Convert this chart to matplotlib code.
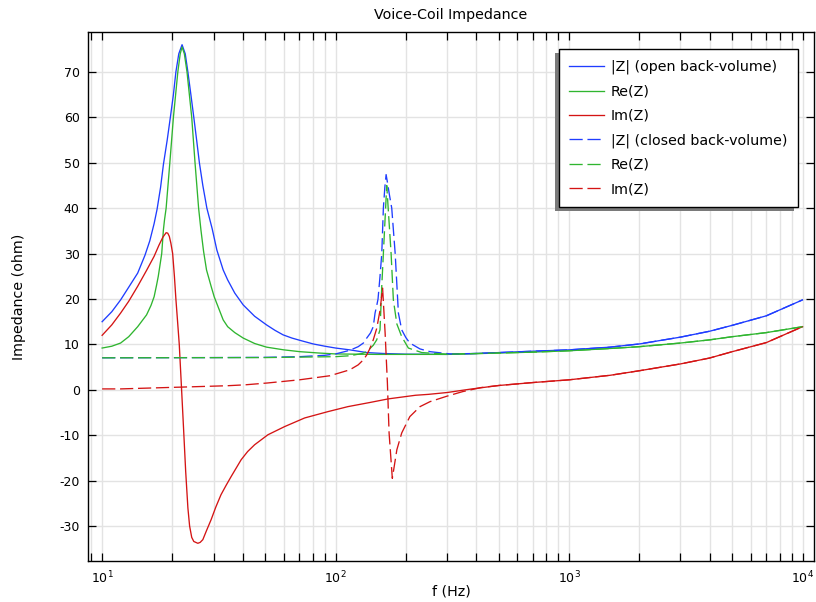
import matplotlib
matplotlib.use("Agg")
import matplotlib.pyplot as plt
from matplotlib.patches import Rectangle
from matplotlib.ticker import LogLocator, LogFormatterMathtext, NullFormatter

plt.rcParams['font.family'] = ['DejaVu Sans']
plt.rcParams['axes.unicode_minus'] = False
plt.rcParams['mathtext.default'] = 'regular'

# ---------------- data ----------------
# Open back-volume |Z|
f_open_abs = [10, 11, 12, 13, 14.2, 15.25, 16, 16.7, 17.2, 17.8, 18.3, 19.0, 19.6, 20.2, 20.7,
              21.3, 22.0, 22.7, 23.3, 24.0, 24.7, 25.4, 26.1, 27.0, 28.1, 29.6, 31, 33, 34.5,
              37, 40.2, 45, 50.6, 55, 59.6, 65, 70.3, 80.2, 90, 100, 115, 136, 160, 200, 300,
              400, 500, 700, 1000, 1500, 2000, 3000, 4000, 5000, 7000, 10000]
z_open_abs = [15.0, 17.2, 19.8, 22.6, 25.7, 29.6, 32.8, 36.6, 39.8, 44.6, 49.6, 55.0, 60.0, 65.0, 70.0,
              74.0, 76.0, 74.0, 70.0, 65.0, 60.0, 55.0, 50.0, 45.0, 40.0, 35.5, 30.8, 26.4, 24.2,
              21.3, 18.7, 16.2, 14.3, 13.1, 12.1, 11.4, 10.9, 10.1, 9.6, 9.2, 8.8, 8.2, 8.0, 7.85, 7.8,
              8.0, 8.2, 8.5, 8.8, 9.4, 10.1, 11.6, 12.9, 14.2, 16.3, 19.8]

# Open back-volume Re(Z)
f_open_re = [10, 11, 12, 13, 14.2, 15.5, 16.2, 16.7, 17.1, 17.4, 17.7, 18.0, 18.3, 18.5, 18.8,
             19.5, 20.2, 21.1, 21.6, 22.0, 22.5, 23.1, 24.2, 25.0, 25.9, 26.5, 27.2, 28.0, 29.3,
             30.2, 33.0, 34.5, 37, 40.2, 45, 50.6, 60, 70.3, 85, 100, 150, 300, 500, 700, 1000,
             1500, 2000, 3000, 4000, 5000, 7000, 10000]
z_open_re = [9.2, 9.6, 10.3, 11.7, 13.9, 16.5, 18.6, 20.5, 23.0, 25.0, 27.5, 30.0, 35.2, 37.4, 40.0,
             50.0, 60.0, 70.0, 74.0, 75.5, 74.0, 70.0, 60.0, 50.0, 40.0, 35.2, 30.5, 26.4, 22.8,
             20.5, 15.4, 13.9, 12.6, 11.4, 10.2, 9.4, 8.8, 8.4, 8.1, 7.9, 7.8, 7.8, 8.1, 8.3, 8.6,
             9.1, 9.5, 10.3, 11.0, 11.7, 12.6, 13.9]

# Open back-volume Im(Z)
f_open_im = [10, 11, 12, 13, 14.2, 15.5, 16.7, 17.5, 18.2, 18.8, 19.1, 19.4, 19.7, 20.05, 20.4,
             20.7, 21.05, 21.4, 21.9, 22.3, 22.8, 23.3, 23.7, 24.2, 24.7, 25.7, 26.3, 27.0, 28.0,
             29.3, 30.7, 32.3, 34.0, 35.7, 39.4, 42, 45, 51.3, 60.5, 73.7, 92.8, 113, 140, 168,
             220, 250, 300, 378, 500, 700, 1000, 1500, 2000, 3000, 4000, 5000, 7000, 10000]
z_open_im = [12.0, 14.3, 16.9, 19.5, 22.8, 26.3, 29.4, 31.8, 33.6, 34.6, 34.5, 33.8, 32.3, 30.0, 25.0,
             20.0, 15.0, 10.0, 0.0, -8.0, -18.0, -26.0, -30.0, -32.5, -33.4, -33.8, -33.6, -33.0, -31.0,
             -28.6, -25.8, -23.1, -21.0, -19.1, -15.4, -13.6, -12.1, -9.9, -8.1, -6.2, -4.8, -3.7, -2.8, -2.0,
             -1.2, -1.0, -0.6, 0.15, 0.95, 1.6, 2.2, 3.2, 4.2, 5.7, 7.0, 8.4, 10.4, 13.9]

# Closed back-volume |Z|
f_closed_abs = [10, 30, 50, 70, 90, 100, 115, 125, 131.5, 136, 141, 145, 147.6, 150, 152, 155,
                157.7, 160.2, 162.5, 164.6, 167, 170, 174, 180, 185.8, 192, 200, 208, 230, 254,
                310, 400, 500, 700, 1000, 1500, 2000, 3000, 4000, 5000, 7000, 10000]
z_closed_abs = [7.05, 7.1, 7.15, 7.3, 7.6, 7.9, 8.7, 9.5, 10.3, 11.4, 12.5, 13.9, 16.9, 18.5, 20.0, 25.0,
                30.0, 40.0, 44.5, 47.4, 45.5, 43.0, 40.0, 30.0, 16.9, 13.2, 11.5, 10.3, 9.0, 8.4,
                7.9, 8.0, 8.2, 8.5, 8.8, 9.4, 10.1, 11.6, 12.9, 14.2, 16.3, 19.8]

# Closed back-volume Re(Z)
f_closed_re = [10, 50, 100, 115, 130, 136, 145, 150, 155, 157.7, 160.2, 165.6, 172.9, 176.8,
               183, 192, 205, 234, 300, 500, 700, 1000, 1500, 2000, 3000, 4000, 5000, 7000, 10000]
z_closed_re = [7.05, 7.1, 7.3, 7.5, 8.0, 8.4, 9.8, 11.0, 13.2, 22.8, 30.0, 45.0, 30.0, 19.8,
               14.5, 11.7, 9.2, 8.2, 7.85, 8.1, 8.3, 8.6, 9.1, 9.5, 10.3, 11.0, 11.7, 12.6, 13.9]

# Closed back-volume Im(Z)
f_closed_im = [10, 12.0, 22.0, 34.4, 41.0, 51.0, 70.0, 94.6, 115, 125, 131.5, 136, 140, 145, 150,
               155, 159, 163, 166.7, 169.5, 175, 183, 192, 208, 230, 254, 300, 350, 420, 500,
               700, 1000, 1500, 2000, 3000, 4000, 5000, 7000, 10000]
z_closed_im = [0.2, 0.2, 0.6, 0.9, 1.1, 1.5, 2.2, 3.1, 4.4, 5.5, 6.6, 7.7, 9.0, 11.0, 13.5,
               17.5, 22.4, 12.5, 1.5, -9.5, -19.5, -13.2, -9.5, -5.9, -3.7, -2.6, -1.4, -0.4, 0.5, 0.95,
               1.6, 2.2, 3.2, 4.2, 5.7, 7.0, 8.4, 10.4, 13.9]

labels = ["|Z| (open back-volume)", "Re(Z)", "Im(Z)",
          "|Z| (closed back-volume)", "Re(Z)", "Im(Z)"]
xticks = [10, 100, 1000, 10000]
yticks = [-30, -20, -10, 0, 10, 20, 30, 40, 50, 60, 70]

# ---------------- styling ----------------
BLUE = '#1f3dff'
GREEN = '#2fb52f'
RED = '#d41414'
LW = 0.95
DASH = (0, (10, 3.6))
FS = 10.3

fig = plt.figure(figsize=(8.16, 6.02), dpi=100)
W, H = 816, 602
ax = fig.add_axes([88 / W, 1 - 561 / H, (814 - 88) / W, (561 - 32) / H])

l1, = ax.plot(f_open_abs, z_open_abs, color=BLUE, lw=LW)
l2, = ax.plot(f_open_re, z_open_re, color=GREEN, lw=LW)
l3, = ax.plot(f_open_im, z_open_im, color=RED, lw=LW)
l4, = ax.plot(f_closed_abs, z_closed_abs, color=BLUE, lw=LW, linestyle=DASH)
l5, = ax.plot(f_closed_re, z_closed_re, color=GREEN, lw=LW, linestyle=DASH)
l6, = ax.plot(f_closed_im, z_closed_im, color=RED, lw=LW, linestyle=DASH)

ax.set_xscale('log')
ax.set_xlim(8.7, 11200)
ax.set_ylim(-37.7, 78.8)

ax.xaxis.set_major_locator(LogLocator(base=10, numticks=10))
ax.xaxis.set_minor_locator(LogLocator(base=10, subs=range(2, 10), numticks=50))
ax.xaxis.set_major_formatter(LogFormatterMathtext())
ax.xaxis.set_minor_formatter(NullFormatter())
ax.set_xticks(xticks)
ax.set_yticks(yticks)
ax.set_yticklabels([str(v) for v in yticks])

ax.tick_params(which='both', direction='in', top=True, right=True,
               length=6, width=0.9, color='black', labelsize=9, pad=6)
ax.tick_params(axis='y', which='minor', left=False, right=False)

ax.set_axisbelow(True)
ax.grid(which='major', axis='both', color='#e3e3e3', lw=1.0)
ax.grid(which='minor', axis='x', color='#e3e3e3', lw=1.0)
for s in ax.spines.values():
    s.set_linewidth(1.0)
    s.set_color('black')

ax.set_title("Voice-Coil Impedance", fontsize=FS, pad=9)
ax.set_xlabel("f (Hz)", fontsize=FS, labelpad=-1)
ax.set_ylabel("Impedance (ohm)", fontsize=FS, labelpad=24)

leg = ax.legend([l1, l2, l3, l4, l5, l6], labels, loc='upper right',
                bbox_to_anchor=((798 - 88) / 726, (561 - 49) / 529),
                borderaxespad=0, fontsize=FS, frameon=True, fancybox=False,
                edgecolor='black', framealpha=1, handlelength=2.4,
                handletextpad=0.5, labelspacing=0.72, borderpad=0.75)
leg.get_frame().set_linewidth(1.0)
leg.set_zorder(10)

fig.canvas.draw()
bb = leg.get_window_extent()
shadow = Rectangle((bb.x0 - 4, bb.y0 - 4), bb.width, bb.height, transform=None,
                   facecolor='#7a7a7a', edgecolor='none', zorder=9.9, clip_on=False)
ax.add_artist(shadow)

fig.savefig("out.png", dpi=100)
